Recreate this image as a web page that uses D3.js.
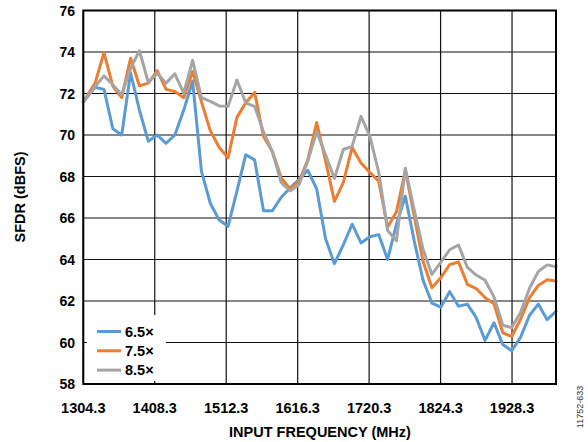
<!DOCTYPE html>
<html><head><meta charset="utf-8">
<script src="https://cdn.jsdelivr.net/npm/d3@7"></script>
<style>
html,body{margin:0;padding:0;background:#fff;}
svg text{font-family:"Liberation Sans",Arial,sans-serif;}
</style></head>
<body>
<svg id="chart" width="588" height="442"></svg>
<script>
const freqs = [1304.3,1321.5,1334.4,1347.3,1360.2,1373.1,1386.0,1398.9,1411.8,1424.7,1437.6,1450.5,1463.4,1476.3,1489.2,1502.1,1515.0,1527.9,1540.8,1553.7,1566.6,1579.5,1592.4,1605.3,1618.2,1631.1,1644.0,1656.9,1669.8,1682.7,1695.6,1708.5,1721.4,1734.3,1747.2,1760.1,1773.0,1785.9,1798.8,1811.7,1824.6,1837.5,1850.4,1863.3,1876.2,1889.1,1902.0,1914.9,1927.8,1940.7,1953.6,1966.5,1979.4,1992.3];
const sfdr65 = [71.6,72.3,72.2,70.3,70.0,73.0,71.2,69.7,70.0,69.6,70.0,71.2,72.6,68.25,66.7,65.9,65.6,67.3,69.05,68.8,66.35,66.35,67.0,67.45,67.85,68.3,67.4,65.0,63.8,64.7,65.7,64.8,65.1,65.2,64.0,65.7,67.05,64.9,63.0,61.9,61.7,62.45,61.75,61.85,61.2,60.1,60.95,59.9,59.6,60.25,61.3,61.85,61.1,61.5];
const sfdr75 = [71.6,72.5,73.97,72.35,71.8,73.7,72.37,72.5,73.1,72.2,72.1,71.8,73.06,71.6,70.2,69.4,68.9,70.85,71.55,72.05,69.93,69.2,67.93,67.4,67.75,68.8,70.6,68.75,66.8,67.7,69.4,68.65,68.2,67.77,65.55,66.3,68.3,66.1,63.9,62.64,63.12,63.75,63.88,62.8,62.6,62.16,61.87,60.47,60.29,61.12,62.15,62.75,63.02,62.96];
const sfdr85 = [71.6,72.34,72.85,72.42,71.94,73.22,74.06,72.53,72.98,72.5,72.95,72.02,73.6,71.8,71.62,71.4,71.38,72.65,71.54,71.38,70.15,69.2,67.7,67.3,67.6,68.75,70.17,69.05,67.9,69.3,69.45,70.9,69.93,68.2,65.4,64.9,68.4,66.4,64.49,63.28,63.86,64.47,64.7,63.62,63.25,63.0,62.2,60.83,60.72,61.45,62.6,63.42,63.74,63.65];
const seriesNames = ["6.5\u00d7","7.5\u00d7","8.5\u00d7"];
const seriesColors = ["#5B9BD5","#ED7D31","#A5A5A5"];
const xTickValues = [1304.3,1408.3,1512.3,1616.3,1720.3,1824.3,1928.3];
const xTickLabels = ["1304.3","1408.3","1512.3","1616.3","1720.3","1824.3","1928.3"];
const yTickValues = [58,60,62,64,66,68,70,72,74,76];

const svg = d3.select("#chart");
const L = 83.3, R = 556, T = 10.5, B = 384;
const x = d3.scaleLinear().domain([1304.3, 1992.3]).range([L, R]);
const y = d3.scaleLinear().domain([58, 76]).range([B, T]);

// grid
const g = svg.append("g");
g.selectAll(".hg").data(yTickValues).join("line")
  .attr("x1", L).attr("x2", R).attr("y1", d => y(d)).attr("y2", d => y(d))
  .attr("stroke", "#111").attr("stroke-width", 1.2);
g.selectAll(".vg").data(xTickValues).join("line")
  .attr("x1", d => x(d)).attr("x2", d => x(d)).attr("y1", T).attr("y2", B)
  .attr("stroke", "#111").attr("stroke-width", 1.2);

// lines
const all = [sfdr65, sfdr75, sfdr85];
const line = d3.line().x((d, i) => x(freqs[i])).y(d => y(d));
all.forEach((s, k) => {
  svg.append("path").datum(s).attr("d", line)
    .attr("fill", "none").attr("stroke", seriesColors[k])
    .attr("stroke-width", 3).attr("stroke-linejoin", "round").attr("stroke-linecap", "round");
});

// border
svg.append("rect").attr("x", L).attr("y", T).attr("width", R - L).attr("height", B - T)
  .attr("fill", "none").attr("stroke", "#000").attr("stroke-width", 2);

// legend
const lg = svg.append("g");
lg.append("rect").attr("x", 87).attr("y", 315).attr("width", 79).attr("height", 66).attr("fill", "#fff");
seriesNames.forEach((n, k) => {
  const yy = 331.5 + k * 19.3;
  lg.append("line").attr("x1", 97).attr("x2", 121).attr("y1", yy).attr("y2", yy)
    .attr("stroke", seriesColors[k]).attr("stroke-width", 3);
  lg.append("text").attr("x", 125).attr("y", yy + 5).text(n)
    .attr("font-size", 14.5).attr("font-weight", "bold").attr("fill", "#000");
});

// y tick labels
svg.selectAll(".yl").data(yTickValues).join("text")
  .attr("x", 75).attr("y", d => y(d) + 5).attr("text-anchor", "end")
  .attr("font-size", 14).attr("font-weight", "bold").text(d => d);

// x tick labels
svg.selectAll(".xl").data(xTickValues).join("text")
  .attr("x", d => x(d)).attr("y", 413).attr("text-anchor", "middle")
  .attr("font-size", 14.5).attr("font-weight", "bold").text((d, i) => xTickLabels[i]);

// titles
svg.append("text").attr("x", 320).attr("y", 437).attr("text-anchor", "middle")
  .attr("font-size", 14.5).attr("font-weight", "bold").text("INPUT FREQUENCY (MHz)");
svg.append("text").attr("transform", "translate(25,197) rotate(-90)").attr("text-anchor", "middle")
  .attr("font-size", 14.5).attr("font-weight", "bold").text("SFDR (dBFS)");
svg.append("text").attr("transform", "translate(583,407) rotate(-90)").attr("text-anchor", "middle")
  .attr("font-size", 9).attr("fill", "#333").text("11752-633");
</script>
</body></html>
